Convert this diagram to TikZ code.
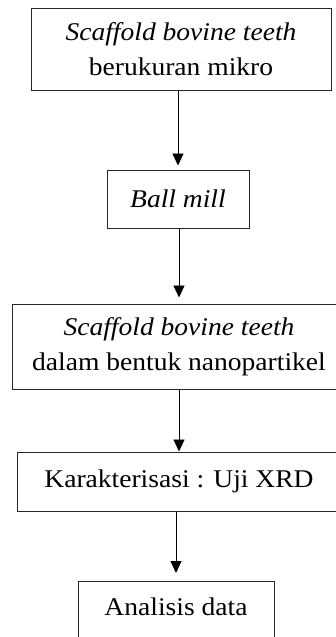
\documentclass[tikz,border=0pt]{standalone}
\usepackage{fontspec}
\setmainfont{Liberation Serif}[FakeStretch=1.08]
\usetikzlibrary{positioning, arrows.meta}

\begin{document}
\begin{tikzpicture}[
    x=1pt, y=1pt,
    font=\fontsize{25.5}{35}\selectfont,
    box/.style={rectangle, draw=black!85, line width=1pt, align=center, inner sep=4pt},
    arrow/.style={-{Triangle[width=11pt, length=12pt]}, line width=0.9pt, black}
]
\useasboundingbox (0,0) rectangle (336,-637);
\clip (0,0) rectangle (336,-637);

% ==================== STEPS ====================
\node[box, minimum width=300pt, minimum height=82pt] (micro) at (181,-49) {\textit{Scaffold bovine teeth}\\berukuran mikro};
\node[box, minimum width=142pt, minimum height=58pt] (ballmill) at (178,-199) {\textit{Ball mill}};
\node[box, minimum width=334pt, minimum height=85pt] (nano) at (179,-346.5) {\textit{Scaffold bovine teeth}\\dalam bentuk nanopartikel};
\node[box, minimum width=324pt, minimum height=59pt] (xrd) at (179,-481.5) {Karakterisasi : Uji XRD};
\node[box, anchor=north, minimum width=196pt, inner ysep=6pt, text height=28pt, text depth=40pt] (analisis) at (176,-581) {Analisis data};

% ==================== ARROWS ====================
\draw[arrow, shorten >=4pt] (ballmill.north |- micro.south) -- (ballmill.north);
\draw[arrow, shorten >=6pt] (nano.north |- ballmill.south) -- (nano.north);
\draw[arrow] (xrd.north |- nano.south) -- (xrd.north);
\draw[arrow, shorten >=8pt] (analisis.north |- xrd.south) -- (analisis.north);

\end{tikzpicture}
\end{document}
